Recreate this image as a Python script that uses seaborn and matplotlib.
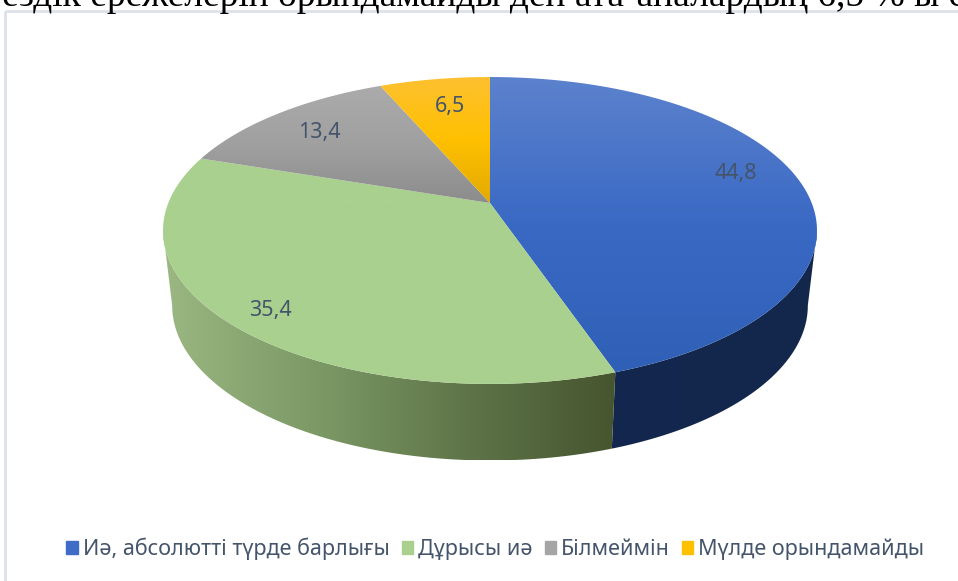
import numpy as np
import seaborn as sns
import matplotlib.pyplot as plt
from matplotlib.patches import Polygon, Patch, Rectangle

labels = ['Иә, абсолютті түрде барлығы', 'Дұрысы иә', 'Білмеймін', 'Мүлде орындамайды']
values = [44.8, 35.4, 13.4, 6.5]
value_text = ['44,8', '35,4', '13,4', '6,5']

# gradient stops, top face and side wall
top_colors = [['#5c82cd', '#3a69c4', '#2f60b6'], ['#a9d08e', '#a9d08e'],
              ['#ababab', '#a0a0a0', '#8c8c8c'], ['#fdc030', '#ffc000', '#e2aa00']]
wall_colors = [['#14284f', '#13274c'], ['#9bb782', '#7c9a66', '#5f7549', '#46552f'],
               ['#777777', '#777777'], ['#a67c00', '#a67c00']]
legend_colors = ['#3f6cc4', '#a9d08e', '#a5a5a5', '#ffc000']
text_color = '#44546a'
heading = 'ездік ережелерін орындамайды деп ата-аналардың 6,5 % ы с'

sns.set_theme(style='white')
plt.rcParams['font.family'] = ['Noto Sans', 'DejaVu Sans']

fig = plt.figure(figsize=(9.58, 5.81), dpi=100)
ax = fig.add_axes([0, 0, 1, 1])
wedges, _ = ax.pie(values, startangle=90, counterclock=False, colors=legend_colors)
angles = [(w.theta1, w.theta2) for w in wedges]
for w in wedges:
    w.remove()


# perspective of the tilted disc, in picture pixels
def top_xy(t):
    u, v = np.cos(t), np.sin(t)
    w = 1 + 0.179 * v
    return 490 + 321.7 * u / w, (203 - 112.2 * v) / w


def low_xy(t):
    x, y = top_xy(t)
    return 490 + 0.972 * (x - 490), 305 + 1.01 * (y - 230)


def gradient(pts, colors, horizontal, z):
    poly = Polygon(pts, closed=True, transform=ax.transData, facecolor='none', edgecolor='none')
    ax.add_patch(poly)
    cmap = sns.blend_palette(colors, n_colors=256, as_cmap=True)
    ramp = np.linspace(0, 1, 256)
    ramp = ramp[None, :] if horizontal else ramp[:, None]
    x0, y0 = pts.min(axis=0)
    x1, y1 = pts.max(axis=0)
    im = ax.imshow(ramp, cmap=cmap, extent=(x0, x1, y1, y0), aspect='auto', zorder=z)
    im.set_clip_path(poly)


# only the front of the rim shows, between the two tangent points of the disc
for i in range(len(values)):
    a0 = max(angles[i][0], -169.7)
    a1 = min(angles[i][1], -10.3)
    if a1 <= a0:
        continue
    t = np.radians(np.linspace(a0, a1, 200))
    tx, ty = top_xy(t)
    lx, ly = low_xy(t)
    wall = np.column_stack([np.r_[tx, lx[::-1]], np.r_[ty, ly[::-1]]])
    gradient(wall, wall_colors[i], True, 1)

for i in range(len(values)):
    t = np.radians(np.linspace(angles[i][0], angles[i][1], 200))
    tx, ty = top_xy(t)
    face = np.column_stack([np.r_[490, tx], np.r_[203, ty]])
    gradient(face, top_colors[i], False, 2)

# label nudges away from the wedge middle
nudges = [(-2, -10), (-18, 14), (2, 3), (6, 6)]
for i in range(len(values)):
    mid = np.radians(sum(angles[i]) / 2)
    u, v = 0.8 * np.cos(mid), 0.8 * np.sin(mid)
    w = 1 + 0.179 * v
    ax.text(490 + 321.7 * u / w + nudges[i][0], (203 - 112.2 * v) / w + nudges[i][1],
            value_text[i], color=text_color, fontsize=15.5, ha='center', va='center', zorder=3)

ax.add_patch(Rectangle((5, 11), 1000, 700, facecolor='none', edgecolor='#dde2ea', linewidth=2, zorder=0))
ax.text(2, 6, heading, family='Liberation Serif', fontsize=27, color='black', ha='left', va='baseline')

ax.set_aspect('auto')
ax.set_xlim(0, 958)
ax.set_ylim(581, 0)
ax.axis('off')

handles = [Patch(color=c) for c in legend_colors]
fig.legend(handles, labels, loc='center', bbox_to_anchor=(495.5 / 958, 1 - 549 / 581), ncol=4, frameon=False,
           fontsize=15.5, labelcolor=text_color, handlelength=0.52, handleheight=0.52,
           handletextpad=0.25, columnspacing=0.55)

fig.savefig('out.png', dpi=100)
